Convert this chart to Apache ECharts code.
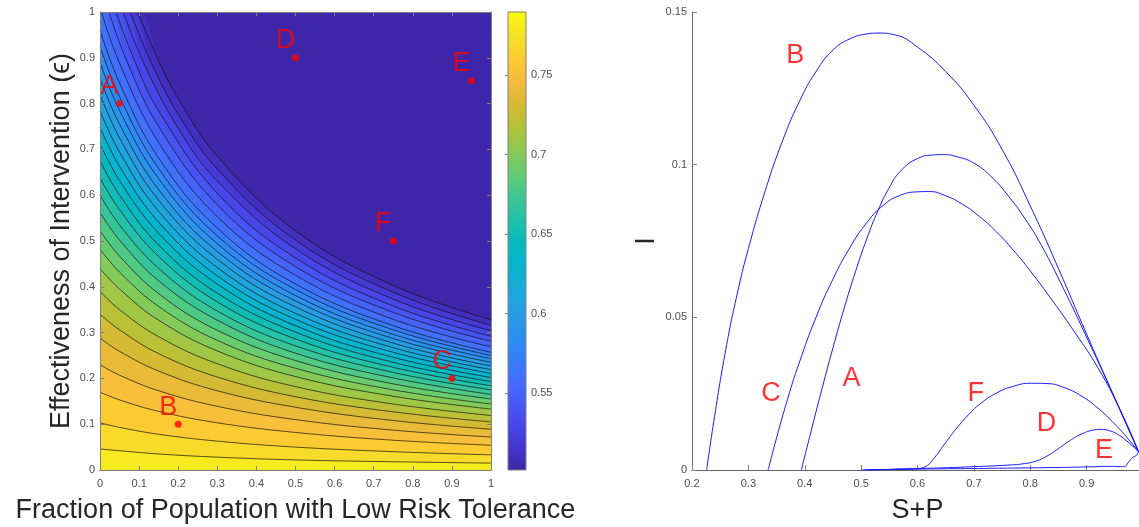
<!DOCTYPE html>
<html><head><meta charset="utf-8">
<script src="https://cdn.jsdelivr.net/npm/echarts@6/dist/echarts.min.js"></script>
<style>html,body{margin:0;padding:0;background:#fff}#c{width:1139px;height:527px}</style>
</head><body><div id="c"></div>
<script>
// ---------------- DATA ----------------
const colorbarMin = 0.5016, colorbarMax = 0.7896;
const colorbarTicks = [0.55, 0.6, 0.65, 0.7, 0.75];
const contourLevels = [0.51,0.52,0.53,0.54,0.55,0.56,0.57,0.58,0.59,0.60,0.61,0.62,0.63,0.64,
  0.65,0.66,0.67,0.68,0.69,0.70,0.71,0.72,0.73,0.74,0.75,0.76,0.77,0.78];
// each contour: [fraction low-risk, effectiveness] points
const contourCurves = [
  [[0.097,1],[0.15,0.893],[0.2,0.811],[0.3,0.685],[0.5,0.522],[0.75,0.403],[1,0.328]],
  [[0.078,1],[0.13,0.891],[0.2,0.777],[0.3,0.657],[0.5,0.502],[0.75,0.388],[1,0.316]],
  [[0.060,1],[0.11,0.892],[0.2,0.746],[0.3,0.631],[0.5,0.483],[0.75,0.373],[1,0.304]],
  [[0.041,1],[0.09,0.890],[0.15,0.784],[0.3,0.604],[0.5,0.463],[0.75,0.358],[1,0.292]],
  [[0.023,1],[0.07,0.890],[0.15,0.750],[0.3,0.579],[0.5,0.444],[0.75,0.344],[1,0.281]],
  [[0.004,1],[0.05,0.888],[0.15,0.715],[0.3,0.553],[0.5,0.425],[0.75,0.329],[1,0.269]],
  [[0,0.960],[0.05,0.845],[0.15,0.681],[0.3,0.528],[0.5,0.406],[0.75,0.315],[1,0.257]],
  [[0,0.925],[0.05,0.815],[0.15,0.658],[0.3,0.511],[0.5,0.394],[0.75,0.306],[1,0.250]],
  [[0,0.890],[0.05,0.785],[0.15,0.636],[0.3,0.494],[0.5,0.381],[0.75,0.296],[1,0.243]],
  [[0,0.855],[0.05,0.755],[0.15,0.612],[0.3,0.477],[0.5,0.369],[0.75,0.287],[1,0.235]],
  [[0,0.820],[0.05,0.725],[0.15,0.589],[0.3,0.460],[0.5,0.356],[0.75,0.277],[1,0.227]],
  [[0,0.784],[0.05,0.694],[0.15,0.565],[0.3,0.442],[0.5,0.342],[0.75,0.267],[1,0.219]],
  [[0,0.748],[0.05,0.663],[0.15,0.541],[0.3,0.424],[0.5,0.329],[0.75,0.257],[1,0.211]],
  [[0,0.712],[0.05,0.632],[0.15,0.517],[0.3,0.406],[0.5,0.315],[0.75,0.246],[1,0.202]],
  [[0,0.675],[0.05,0.600],[0.15,0.491],[0.3,0.386],[0.5,0.301],[0.75,0.235],[1,0.193]],
  [[0,0.638],[0.05,0.568],[0.15,0.466],[0.3,0.367],[0.5,0.286],[0.75,0.224],[1,0.184]],
  [[0,0.600],[0.05,0.535],[0.15,0.440],[0.3,0.347],[0.5,0.271],[0.75,0.213],[1,0.175]],
  [[0,0.562],[0.05,0.502],[0.15,0.413],[0.3,0.327],[0.5,0.255],[0.75,0.201],[1,0.165]],
  [[0,0.522],[0.05,0.467],[0.15,0.385],[0.3,0.305],[0.5,0.239],[0.75,0.188],[1,0.155]],
  [[0,0.482],[0.05,0.432],[0.15,0.357],[0.3,0.283],[0.5,0.222],[0.75,0.175],[1,0.144]],
  [[0,0.440],[0.05,0.395],[0.15,0.327],[0.3,0.260],[0.5,0.204],[0.75,0.161],[1,0.133]],
  [[0,0.390],[0.05,0.350],[0.15,0.291],[0.3,0.232],[0.5,0.182],[0.75,0.144],[1,0.119]],
  [[0,0.340],[0.05,0.306],[0.15,0.254],[0.3,0.203],[0.5,0.160],[0.75,0.127],[1,0.105]],
  [[0,0.288],[0.05,0.259],[0.15,0.216],[0.3,0.173],[0.5,0.137],[0.75,0.108],[1,0.089]],
  [[0,0.230],[0.05,0.207],[0.15,0.173],[0.3,0.139],[0.5,0.110],[0.75,0.087],[1,0.072]],
  [[0,0.170],[0.05,0.153],[0.15,0.128],[0.3,0.103],[0.5,0.082],[0.75,0.065],[1,0.054]],
  [[0,0.103],[0.05,0.093],[0.15,0.078],[0.3,0.063],[0.5,0.050],[0.75,0.040],[1,0.033]],
  [[0,0.046],[0.05,0.042],[0.15,0.035],[0.3,0.028],[0.5,0.022],[0.75,0.018],[1,0.015]]
];
const scenarioNames = ['A','B','C','D','E','F'];
const scenarioLowRisk = [0.05, 0.2, 0.9, 0.5, 0.95, 0.75];
const scenarioEffect  = [0.8, 0.1, 0.2, 0.9, 0.85, 0.5];

// phase-plane trajectories [S+P, I]
const phaseA = [[0.394,0],[0.41,0.0118],[0.43,0.0262],[0.45,0.0400],[0.47,0.0530],[0.49,0.0650],[0.51,0.0757],[0.53,0.0850],[0.55,0.0925],[0.57,0.0979],[0.60,0.1020],[0.63,0.1032],[0.645,0.1033],[0.67,0.1026],[0.70,0.1005],[0.73,0.0962],[0.76,0.0900],[0.79,0.0825],[0.82,0.0735],[0.86,0.0590],[0.90,0.0435],[0.95,0.0235],[0.992,0.006]];
const phaseB = [[0.226,0],[0.24,0.0175],[0.26,0.0395],[0.28,0.0575],[0.30,0.0725],[0.33,0.0915],[0.36,0.1075],[0.39,0.1205],[0.42,0.1305],[0.45,0.1375],[0.48,0.1412],[0.51,0.1428],[0.53,0.1431],[0.56,0.1425],[0.60,0.1385],[0.65,0.1305],[0.70,0.1195],[0.75,0.1050],[0.80,0.0865],[0.85,0.0660],[0.90,0.0445],[0.95,0.0235],[0.992,0.006]];
const phaseC = [[0.335,0],[0.35,0.0105],[0.37,0.0235],[0.39,0.0350],[0.42,0.0500],[0.45,0.0625],[0.48,0.0728],[0.51,0.0810],[0.54,0.0868],[0.57,0.0900],[0.60,0.0911],[0.62,0.0912],[0.65,0.0898],[0.68,0.0870],[0.71,0.0830],[0.74,0.0780],[0.77,0.0720],[0.80,0.0652],[0.84,0.0553],[0.88,0.0448],[0.92,0.0335],[0.96,0.0195],[0.992,0.006]];
const phaseD = [[0.505,0],[0.55,0.0002],[0.61,0.0005],[0.70,0.0011],[0.76,0.0016],[0.79,0.0021],[0.81,0.0029],[0.83,0.0046],[0.85,0.0070],[0.87,0.0096],[0.89,0.0117],[0.91,0.0130],[0.925,0.0133],[0.94,0.0129],[0.955,0.0117],[0.97,0.0097],[0.982,0.0078],[0.992,0.006]];
const phaseE = [[0.51,0],[0.60,0.0003],[0.70,0.0005],[0.80,0.0007],[0.90,0.0010],[0.94,0.0012],[0.96,0.0011],[0.967,0.0011],[0.974,0.0025],[0.982,0.0042],[0.987,0.0046],[0.992,0.006]];
const phaseF = [[0.50,0],[0.53,0.0001],[0.57,0.0003],[0.60,0.0005],[0.615,0.0012],[0.63,0.0040],[0.65,0.0090],[0.67,0.0138],[0.69,0.0180],[0.71,0.0215],[0.74,0.0252],[0.77,0.0274],[0.80,0.0284],[0.83,0.0283],[0.86,0.0270],[0.89,0.0243],[0.92,0.0203],[0.95,0.0150],[0.97,0.0110],[0.992,0.006]];
const phaseLabelNames = ['A','B','C','D','E','F'];
const phaseLabelX = [0.483, 0.383, 0.340, 0.829, 0.931, 0.7035];
const phaseLabelY = [0.0301, 0.1356, 0.0252, 0.0151, 0.0065, 0.0252];

// ---------------- STYLE ----------------
const PARULA = [[0,[62,38,168]],[0.05,[69,53,208]],[0.1,[72,70,234]],[0.15,[71,91,249]],[0.2,[66,111,255]],
  [0.25,[51,130,250]],[0.3,[43,145,240]],[0.35,[38,158,227]],[0.4,[23,171,217]],[0.45,[5,181,207]],
  [0.5,[8,186,188]],[0.55,[36,194,168]],[0.6,[64,199,145]],[0.65,[102,204,112]],[0.7,[140,201,82]],
  [0.75,[181,194,54]],[0.8,[217,186,51]],[0.85,[247,186,61]],[0.9,[252,204,48]],[0.95,[245,227,38]],[1,[249,251,14]]];
function cmap(t){
  t = Math.max(0, Math.min(1, t));
  for (let i = 1; i < PARULA.length; i++) {
    if (t <= PARULA[i][0]) {
      const a = PARULA[i-1], b = PARULA[i], f = (t - a[0]) / (b[0] - a[0]);
      const c = a[1].map((v, j) => Math.round(v + (b[1][j] - v) * f));
      return 'rgb(' + c.join(',') + ')';
    }
  }
  return 'rgb(' + PARULA[PARULA.length-1][1].join(',') + ')';
}
const levelColor = v => cmap((v - colorbarMin) / (colorbarMax - colorbarMin));
const FONT = '"Liberation Sans", Arial, Helvetica, sans-serif';
const TXT = '#4d4d4d', AXC = '#808080', TITLE = '#262626';
const tickLbl = (margin) => ({fontSize: 11, color: TXT, fontFamily: FONT, margin: margin});

const chart = echarts.init(document.getElementById('c'), null, {renderer: 'canvas'});

const series = [];
contourLevels.forEach((lv, i) => {
  const pts = contourCurves[i];
  const areaPts = (pts[0][1] >= 1 && pts[0][0] > 0) ? [[0, 1]].concat(pts) : pts;
  series.push({
    type: 'line', xAxisIndex: 0, yAxisIndex: 0, data: areaPts, smooth: 0.4,
    symbol: 'none', showSymbol: false, silent: true,
    lineStyle: {width: 0, opacity: 0},
    areaStyle: {color: levelColor(lv), opacity: 1, origin: 'start'},
    z: 2
  });
  series.push({
    type: 'line', xAxisIndex: 0, yAxisIndex: 0, data: pts, smooth: 0.4,
    symbol: 'none', showSymbol: false, silent: true,
    lineStyle: {color: '#111', width: 0.7},
    z: 2
  });
});
series.push({
  type: 'scatter', xAxisIndex: 0, yAxisIndex: 0, silent: true, z: 6,
  data: scenarioNames.map((n, i) => ({name: n, value: [scenarioLowRisk[i], scenarioEffect[i]]})),
  symbolSize: 7, itemStyle: {color: '#ff0000'},
  label: {show: true, formatter: '{b}', position: 'inside', offset: [-10, -17],
    color: '#ff0000', fontSize: 27, fontFamily: FONT}
});
// colorbar
const cbStops = PARULA.map(s => ({offset: s[0], color: cmap(s[0])}));
series.push({
  type: 'custom', xAxisIndex: 2, yAxisIndex: 2, silent: true, clip: false,
  data: [[0, colorbarMin]],
  renderItem: (params, api) => {
    const p0 = api.coord([0, colorbarMax]), p1 = api.coord([1, colorbarMin]);
    return {type: 'rect', shape: {x: p0[0], y: p0[1], width: p1[0] - p0[0], height: p1[1] - p0[1]},
      style: {fill: new echarts.graphic.LinearGradient(0, 1, 0, 0, cbStops), stroke: AXC, lineWidth: 1}};
  }
});
// phase plane
[phaseA, phaseB, phaseC, phaseD, phaseE, phaseF].forEach(d => {
  series.push({type: 'line', xAxisIndex: 3, yAxisIndex: 3, data: d, smooth: 0.5,
    symbol: 'none', showSymbol: false, silent: true,
    lineStyle: {color: '#1a1aff', width: 1}, z: 3});
});
series.push({
  type: 'scatter', xAxisIndex: 3, yAxisIndex: 3, silent: true, z: 6,
  data: phaseLabelNames.map((n, i) => ({name: n, value: [phaseLabelX[i], phaseLabelY[i]]})),
  symbolSize: 0,
  label: {show: true, formatter: '{b}', position: 'inside', color: '#ff0000', fontSize: 27, fontFamily: FONT}
});

const inTick = (len) => ({show: true, inside: true, length: len, lineStyle: {color: AXC, width: 1}});
const axLine = (c) => ({show: true, onZero: false, lineStyle: {color: c || AXC, width: 1}});

chart.setOption({
  animation: false,
  backgroundColor: '#fff',
  grid: [
    {left: 100, top: 12, width: 391, height: 458, show: true, backgroundColor: cmap(0), borderWidth: 0, outerBoundsMode: 'none', containLabel: false},
    {left: 508, top: 12, width: 18, height: 458, outerBoundsMode: 'none', containLabel: false},
    {left: 692, top: 12, width: 451, height: 458, outerBoundsMode: 'none', containLabel: false}
  ],
  xAxis: [
    {gridIndex: 0, type: 'value', min: 0, max: 1, interval: 0.1, position: 'bottom', z: 10,
      axisLine: axLine(), axisTick: inTick(4), axisLabel: tickLbl(8), splitLine: {show: false},
      name: 'Fraction of Population with Low Risk Tolerance', nameLocation: 'middle', nameGap: 27,
      nameTextStyle: {fontSize: 27, color: TITLE, fontFamily: FONT}},
    {gridIndex: 0, type: 'value', min: 0, max: 1, interval: 0.1, position: 'top', z: 10,
      axisLine: axLine(), axisTick: inTick(4), axisLabel: {show: false}, splitLine: {show: false}},
    {gridIndex: 1, type: 'value', min: 0, max: 1, show: false},
    {gridIndex: 2, type: 'value', min: 0.2, max: 1, interval: 0.1, position: 'bottom',
      axisLine: axLine('#666'), axisTick: inTick(5), axisLabel: Object.assign(tickLbl(8), {showMaxLabel: false}),
      splitLine: {show: false},
      name: 'S+P', nameLocation: 'middle', nameGap: 27,
      nameTextStyle: {fontSize: 27, color: TITLE, fontFamily: FONT}}
  ],
  yAxis: [
    {gridIndex: 0, type: 'value', min: 0, max: 1, interval: 0.1, position: 'left', z: 10,
      axisLine: axLine(), axisTick: inTick(4), axisLabel: tickLbl(5), splitLine: {show: false},
      name: 'Effectiveness of Intervention (\u03f5)', nameLocation: 'middle', nameGap: 25, nameRotate: 90,
      nameTextStyle: {fontSize: 27, color: TITLE, fontFamily: FONT}},
    {gridIndex: 0, type: 'value', min: 0, max: 1, interval: 0.1, position: 'right', z: 10,
      axisLine: axLine(), axisTick: inTick(4), axisLabel: {show: false}, splitLine: {show: false}},
    {gridIndex: 1, type: 'value', min: colorbarMin, max: colorbarMax, position: 'right',
      axisLine: {show: false}, splitLine: {show: false},
      axisTick: Object.assign(inTick(3), {customValues: colorbarTicks}),
      axisLabel: Object.assign(tickLbl(5), {customValues: colorbarTicks, formatter: v => String(+v.toFixed(2))})},
    {gridIndex: 2, type: 'value', min: 0, max: 0.15, interval: 0.05, position: 'left',
      axisLine: axLine('#666'), axisTick: inTick(5), axisLabel: tickLbl(5), splitLine: {show: false},
      name: 'I', nameLocation: 'middle', nameGap: 32, nameRotate: 90,
      nameTextStyle: {fontSize: 27, color: TITLE, fontFamily: FONT}}
  ],
  series: series
});
</script></body></html>
